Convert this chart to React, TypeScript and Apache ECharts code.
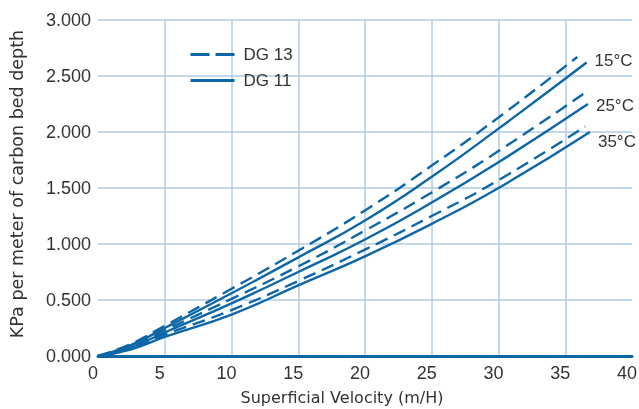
import React, { useEffect, useRef } from "react";
import * as echarts from "echarts";

const xS15 = [0, 2.5, 5, 10, 15, 20, 25, 30, 36.6];
const yS15 = [0, 0.1, 0.25, 0.56, 0.88, 1.21, 1.6, 2.03, 2.62];
const xD15 = [0, 2.5, 5, 10, 15, 20, 25, 30, 35.9];
const yD15 = [0, 0.11, 0.27, 0.6, 0.94, 1.3, 1.7, 2.13, 2.67];
const xS25 = [0, 2.5, 5, 10, 15, 20, 25, 30, 36.7];
const yS25 = [0, 0.08, 0.21, 0.47, 0.75, 1.04, 1.37, 1.73, 2.25];
const xD25 = [0, 2.5, 5, 10, 15, 20, 25, 30, 36.6];
const yD25 = [0, 0.09, 0.23, 0.51, 0.8, 1.12, 1.46, 1.83, 2.36];
const xS35 = [0, 2.5, 5, 10, 15, 20, 25, 30, 36.85];
const yS35 = [0, 0.06, 0.17, 0.37, 0.63, 0.89, 1.18, 1.5, 2.0];
const xD35 = [0, 2.5, 5, 10, 15, 20, 25, 30, 36.5];
const yD35 = [0, 0.07, 0.19, 0.41, 0.67, 0.95, 1.25, 1.57, 2.05];

const legendNames = ["DG 13", "DG 11"];
const tempLabels = ["15°C", "25°C", "35°C"];

const BLUE = "#0d66a6";
const GRID = "#b3cbe6";
const TEXT = "#333333";
const FONT = "'Liberation Sans', Arial, sans-serif";
const NAME_FONT = "'DejaVu Sans', 'Liberation Sans', sans-serif";

const zip = (xs: number[], ys: number[]) => xs.map((x, i) => [x, ys[i]]);

export default function App() {
  const ref = useRef<HTMLDivElement>(null);
  useEffect(() => {
    if (!ref.current) return;
    const chart = echarts.init(ref.current, null, { renderer: "svg" });
    const dashed = (data: number[][]) => ({
      type: "line",
      name: legendNames[0],
      data,
      smooth: true,
      showSymbol: false,
      symbol: "none",
      lineStyle: { color: BLUE, width: 2.4, type: [13, 7] },
      itemStyle: { color: BLUE },
    });
    const solid = (data: number[][], label: string, off: number[]) => ({
      type: "line",
      name: legendNames[1],
      data,
      smooth: true,
      showSymbol: false,
      symbol: "none",
      lineStyle: { color: BLUE, width: 2.4, type: "solid" },
      itemStyle: { color: BLUE },
      endLabel: {
        show: true,
        formatter: label,
        color: TEXT,
        fontSize: 17,
        fontFamily: FONT,
        offset: off,
      },
    });
    chart.setOption({
      animation: false,
      textStyle: { fontFamily: FONT },
      grid: {
        left: 98,
        right: 7,
        top: 20,
        bottom: 53,
        containLabel: false,
        outerBoundsMode: "none",
      },
      legend: {
        data: [
          { name: legendNames[0], lineStyle: { type: [19, 6], width: 3 } },
          { name: legendNames[1], lineStyle: { type: "solid", width: 3 } },
        ],
        orient: "vertical",
        left: 189,
        top: 46,
        padding: 0,
        itemWidth: 44,
        itemHeight: 14,
        itemGap: 9,
        selectedMode: false,
        itemStyle: { opacity: 0 },
        textStyle: {
          color: TEXT,
          fontSize: 17,
          fontFamily: FONT,
          padding: [0, 0, 0, 4],
        },
      },
      xAxis: {
        type: "value",
        min: 0,
        max: 40,
        interval: 5,
        name: "Superficial Velocity (m/H)",
        nameLocation: "middle",
        nameGap: 33,
        nameTextStyle: {
          color: TEXT,
          fontSize: 16,
          fontFamily: NAME_FONT,
          padding: [0, 46, 0, 0],
        },
        axisLine: { show: true, onZero: false, lineStyle: { color: BLUE, width: 3 } },
        axisTick: { show: false },
        axisLabel: {
          color: TEXT,
          fontSize: 18,
          margin: 8,
          fontFamily: FONT,
          padding: [0, 10, 0, 0],
        },
        splitLine: {
          show: true,
          showMinLine: false,
          showMaxLine: false,
          lineStyle: { color: GRID, width: 1.5 },
        },
      },
      yAxis: {
        type: "value",
        min: 0,
        max: 3,
        interval: 0.5,
        name: "KPa per meter of carbon bed depth",
        nameLocation: "middle",
        nameGap: 72,
        nameTextStyle: {
          color: TEXT,
          fontSize: 17.5,
          fontFamily: NAME_FONT,
          padding: [0, 0, 0, 8],
        },
        axisLine: { show: false },
        axisTick: { show: false },
        axisLabel: {
          color: TEXT,
          fontSize: 18,
          margin: 7,
          fontFamily: FONT,
          formatter: (v: number) => v.toFixed(3),
        },
        splitLine: { show: true, lineStyle: { color: GRID, width: 1.5 } },
      },
      series: [
        dashed(zip(xD15, yD15)),
        dashed(zip(xD25, yD25)),
        dashed(zip(xD35, yD35)),
        solid(zip(xS15, yS15), tempLabels[0], [0, -2]),
        solid(zip(xS25, yS25), tempLabels[1], [0, 1]),
        solid(zip(xS35, yS35), tempLabels[2], [0, 9]),
      ],
    });
    return () => chart.dispose();
  }, []);
  return (
    <div
      ref={ref}
      style={{ position: "fixed", left: 0, top: 0, width: 639, height: 409 }}
    />
  );
}
